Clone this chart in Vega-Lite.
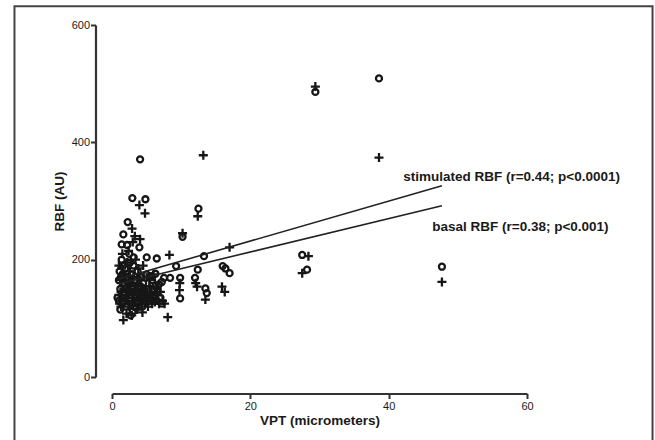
{
  "$schema": "https://vega.github.io/schema/vega-lite/v6.json",
  "autosize": {"type": "none"},
  "padding": {"left": 112, "top": 25, "right": 128, "bottom": 63},
  "width": 415,
  "height": 352,
  "background": "white",
  "config": {
    "view": {"stroke": null},
    "axis": {"grid": false, "offset": 16.5, "tickSize": 5, "tickWidth": 2, "tickColor": "#333", "domainColor": "#333", "domainWidth": 2.2,
      "labelFont": "Liberation Sans", "labelFontSize": 11, "labelColor": "#1a1a1a", "titleFont": "Liberation Sans", "titleFontSize": 13.5,
      "titleFontWeight": "bold", "titleColor": "#1a1a1a"},
    "axisX": {"labelFlush": false, "labelPadding": 2, "titlePadding": 2},
    "axisY": {"labelPadding": 1, "titlePadding": 5}
  },
  "datasets": {
    "pts": [
      {"s": "basal", "vpt": 4.06, "rbf": 371}, {"s": "basal", "vpt": 2.94, "rbf": 305}, {"s": "basal", "vpt": 4.83, "rbf": 303},
      {"s": "basal", "vpt": 12.5, "rbf": 287}, {"s": "basal", "vpt": 2.27, "rbf": 264}, {"s": "basal", "vpt": 1.64, "rbf": 243},
      {"s": "basal", "vpt": 10.2, "rbf": 239}, {"s": "basal", "vpt": 1.4, "rbf": 226}, {"s": "basal", "vpt": 3.96, "rbf": 221},
      {"s": "basal", "vpt": 3.14, "rbf": 204}, {"s": "basal", "vpt": 5.02, "rbf": 204}, {"s": "basal", "vpt": 6.47, "rbf": 202},
      {"s": "basal", "vpt": 13.3, "rbf": 206}, {"s": "basal", "vpt": 9.27, "rbf": 189}, {"s": "basal", "vpt": 16.0, "rbf": 189},
      {"s": "basal", "vpt": 16.4, "rbf": 185}, {"s": "basal", "vpt": 17.0, "rbf": 177}, {"s": "basal", "vpt": 12.4, "rbf": 183},
      {"s": "basal", "vpt": 6.28, "rbf": 176}, {"s": "basal", "vpt": 7.53, "rbf": 169}, {"s": "basal", "vpt": 8.4, "rbf": 169},
      {"s": "basal", "vpt": 9.85, "rbf": 169}, {"s": "basal", "vpt": 12.0, "rbf": 169}, {"s": "basal", "vpt": 9.85, "rbf": 134},
      {"s": "basal", "vpt": 13.5, "rbf": 151}, {"s": "basal", "vpt": 13.7, "rbf": 143}, {"s": "basal", "vpt": 7.2, "rbf": 162},
      {"s": "basal", "vpt": 38.6, "rbf": 509}, {"s": "basal", "vpt": 29.4, "rbf": 486}, {"s": "basal", "vpt": 27.5, "rbf": 208},
      {"s": "basal", "vpt": 28.2, "rbf": 183}, {"s": "basal", "vpt": 47.7, "rbf": 188},
      {"s": "basal", "vpt": 1.0, "rbf": 130}, {"s": "basal", "vpt": 1.2, "rbf": 150}, {"s": "basal", "vpt": 1.3, "rbf": 170},
      {"s": "basal", "vpt": 1.5, "rbf": 175}, {"s": "basal", "vpt": 1.6, "rbf": 160}, {"s": "basal", "vpt": 1.8, "rbf": 140},
      {"s": "basal", "vpt": 1.9, "rbf": 185}, {"s": "basal", "vpt": 2.0, "rbf": 120}, {"s": "basal", "vpt": 2.1, "rbf": 165},
      {"s": "basal", "vpt": 2.3, "rbf": 195}, {"s": "basal", "vpt": 2.4, "rbf": 145}, {"s": "basal", "vpt": 2.5, "rbf": 210},
      {"s": "basal", "vpt": 2.6, "rbf": 130}, {"s": "basal", "vpt": 2.8, "rbf": 175}, {"s": "basal", "vpt": 2.9, "rbf": 155},
      {"s": "basal", "vpt": 3.0, "rbf": 112}, {"s": "basal", "vpt": 3.1, "rbf": 190}, {"s": "basal", "vpt": 3.3, "rbf": 140},
      {"s": "basal", "vpt": 3.4, "rbf": 165}, {"s": "basal", "vpt": 3.6, "rbf": 125}, {"s": "basal", "vpt": 3.7, "rbf": 180},
      {"s": "basal", "vpt": 3.9, "rbf": 150}, {"s": "basal", "vpt": 4.0, "rbf": 135}, {"s": "basal", "vpt": 4.2, "rbf": 170},
      {"s": "basal", "vpt": 4.4, "rbf": 120}, {"s": "basal", "vpt": 4.5, "rbf": 160}, {"s": "basal", "vpt": 4.7, "rbf": 145},
      {"s": "basal", "vpt": 4.9, "rbf": 130}, {"s": "basal", "vpt": 5.0, "rbf": 175}, {"s": "basal", "vpt": 5.3, "rbf": 150},
      {"s": "basal", "vpt": 5.5, "rbf": 140}, {"s": "basal", "vpt": 5.8, "rbf": 165}, {"s": "basal", "vpt": 6.0, "rbf": 130},
      {"s": "basal", "vpt": 6.3, "rbf": 155}, {"s": "basal", "vpt": 6.6, "rbf": 145}, {"s": "basal", "vpt": 7.0, "rbf": 135},
      {"s": "basal", "vpt": 1.1, "rbf": 180}, {"s": "basal", "vpt": 1.4, "rbf": 200}, {"s": "basal", "vpt": 2.2, "rbf": 225},
      {"s": "basal", "vpt": 0.8, "rbf": 135}, {"s": "basal", "vpt": 1.7, "rbf": 128}, {"s": "basal", "vpt": 2.7, "rbf": 105},
      {"s": "basal", "vpt": 3.5, "rbf": 118}, {"s": "basal", "vpt": 5.6, "rbf": 172}, {"s": "basal", "vpt": 6.8, "rbf": 158},
      {"s": "basal", "vpt": 1.2, "rbf": 115}, {"s": "basal", "vpt": 1.5, "rbf": 135}, {"s": "basal", "vpt": 1.8, "rbf": 160},
      {"s": "basal", "vpt": 2.0, "rbf": 150}, {"s": "basal", "vpt": 2.3, "rbf": 170}, {"s": "basal", "vpt": 2.5, "rbf": 160},
      {"s": "basal", "vpt": 2.7, "rbf": 140}, {"s": "basal", "vpt": 3.0, "rbf": 150}, {"s": "basal", "vpt": 3.2, "rbf": 120},
      {"s": "basal", "vpt": 3.5, "rbf": 145}, {"s": "basal", "vpt": 3.8, "rbf": 130}, {"s": "basal", "vpt": 4.1, "rbf": 155},
      {"s": "basal", "vpt": 4.3, "rbf": 140}, {"s": "basal", "vpt": 4.6, "rbf": 125}, {"s": "basal", "vpt": 5.1, "rbf": 140},
      {"s": "basal", "vpt": 5.4, "rbf": 130}, {"s": "basal", "vpt": 5.9, "rbf": 150}, {"s": "basal", "vpt": 6.2, "rbf": 140},
      {"s": "basal", "vpt": 6.5, "rbf": 130}, {"s": "basal", "vpt": 7.2, "rbf": 125}, {"s": "basal", "vpt": 1.0, "rbf": 165},
      {"s": "basal", "vpt": 1.6, "rbf": 190}, {"s": "basal", "vpt": 2.6, "rbf": 195},
      {"s": "stim", "vpt": 13.2, "rbf": 378}, {"s": "stim", "vpt": 3.96, "rbf": 293}, {"s": "stim", "vpt": 4.77, "rbf": 279},
      {"s": "stim", "vpt": 12.4, "rbf": 274}, {"s": "stim", "vpt": 2.9, "rbf": 253}, {"s": "stim", "vpt": 4.06, "rbf": 235},
      {"s": "stim", "vpt": 10.2, "rbf": 245}, {"s": "stim", "vpt": 8.3, "rbf": 208}, {"s": "stim", "vpt": 17.0, "rbf": 221},
      {"s": "stim", "vpt": 9.75, "rbf": 148}, {"s": "stim", "vpt": 12.3, "rbf": 154}, {"s": "stim", "vpt": 13.5, "rbf": 132},
      {"s": "stim", "vpt": 15.9, "rbf": 154}, {"s": "stim", "vpt": 16.3, "rbf": 145}, {"s": "stim", "vpt": 1.64, "rbf": 97},
      {"s": "stim", "vpt": 2.85, "rbf": 105}, {"s": "stim", "vpt": 8.06, "rbf": 102}, {"s": "stim", "vpt": 29.4, "rbf": 495},
      {"s": "stim", "vpt": 38.6, "rbf": 374}, {"s": "stim", "vpt": 28.4, "rbf": 206}, {"s": "stim", "vpt": 27.5, "rbf": 177},
      {"s": "stim", "vpt": 47.7, "rbf": 162}, {"s": "stim", "vpt": 9.8, "rbf": 160}, {"s": "stim", "vpt": 12.1, "rbf": 160},
      {"s": "stim", "vpt": 1.0, "rbf": 140}, {"s": "stim", "vpt": 1.2, "rbf": 165}, {"s": "stim", "vpt": 1.4, "rbf": 185},
      {"s": "stim", "vpt": 1.5, "rbf": 210}, {"s": "stim", "vpt": 1.7, "rbf": 150}, {"s": "stim", "vpt": 1.9, "rbf": 175},
      {"s": "stim", "vpt": 2.0, "rbf": 130}, {"s": "stim", "vpt": 2.2, "rbf": 195}, {"s": "stim", "vpt": 2.3, "rbf": 160},
      {"s": "stim", "vpt": 2.5, "rbf": 120}, {"s": "stim", "vpt": 2.6, "rbf": 180}, {"s": "stim", "vpt": 2.8, "rbf": 145},
      {"s": "stim", "vpt": 3.0, "rbf": 230}, {"s": "stim", "vpt": 3.1, "rbf": 170}, {"s": "stim", "vpt": 3.2, "rbf": 130},
      {"s": "stim", "vpt": 3.4, "rbf": 200}, {"s": "stim", "vpt": 3.5, "rbf": 155}, {"s": "stim", "vpt": 3.6, "rbf": 115},
      {"s": "stim", "vpt": 3.8, "rbf": 185}, {"s": "stim", "vpt": 4.0, "rbf": 140}, {"s": "stim", "vpt": 4.1, "rbf": 165},
      {"s": "stim", "vpt": 4.3, "rbf": 125}, {"s": "stim", "vpt": 4.5, "rbf": 190}, {"s": "stim", "vpt": 4.6, "rbf": 150},
      {"s": "stim", "vpt": 4.8, "rbf": 135}, {"s": "stim", "vpt": 5.0, "rbf": 170}, {"s": "stim", "vpt": 5.2, "rbf": 120},
      {"s": "stim", "vpt": 5.4, "rbf": 155}, {"s": "stim", "vpt": 5.7, "rbf": 140}, {"s": "stim", "vpt": 6.0, "rbf": 175},
      {"s": "stim", "vpt": 6.2, "rbf": 128}, {"s": "stim", "vpt": 6.5, "rbf": 150}, {"s": "stim", "vpt": 6.8, "rbf": 125},
      {"s": "stim", "vpt": 7.3, "rbf": 130}, {"s": "stim", "vpt": 7.6, "rbf": 125}, {"s": "stim", "vpt": 1.3, "rbf": 120},
      {"s": "stim", "vpt": 2.1, "rbf": 108},
      {"s": "stim", "vpt": 1.1, "rbf": 125}, {"s": "stim", "vpt": 1.3, "rbf": 145}, {"s": "stim", "vpt": 1.6, "rbf": 170},
      {"s": "stim", "vpt": 1.8, "rbf": 130}, {"s": "stim", "vpt": 2.1, "rbf": 150}, {"s": "stim", "vpt": 2.4, "rbf": 140},
      {"s": "stim", "vpt": 2.7, "rbf": 165}, {"s": "stim", "vpt": 2.9, "rbf": 125}, {"s": "stim", "vpt": 3.3, "rbf": 145},
      {"s": "stim", "vpt": 3.6, "rbf": 170}, {"s": "stim", "vpt": 3.9, "rbf": 130}, {"s": "stim", "vpt": 4.2, "rbf": 150},
      {"s": "stim", "vpt": 4.4, "rbf": 110}, {"s": "stim", "vpt": 4.9, "rbf": 145}, {"s": "stim", "vpt": 5.1, "rbf": 130},
      {"s": "stim", "vpt": 5.5, "rbf": 165}, {"s": "stim", "vpt": 5.8, "rbf": 125}, {"s": "stim", "vpt": 6.3, "rbf": 140},
      {"s": "stim", "vpt": 7.0, "rbf": 145}, {"s": "stim", "vpt": 1.0, "rbf": 190}, {"s": "stim", "vpt": 2.4, "rbf": 215},
      {"s": "stim", "vpt": 3.3, "rbf": 240}
    ],
    "fits": [
      {"s": "stimulated", "vpt": 1.0, "rbf": 167}, {"s": "stimulated", "vpt": 47.7, "rbf": 326},
      {"s": "basal", "vpt": 1.0, "rbf": 159}, {"s": "basal", "vpt": 47.7, "rbf": 292}
    ],
    "notes": [
      {"vpt": 42.1, "rbf": 341, "label": "stimulated RBF (r=0.44; p<0.0001)"},
      {"vpt": 46.3, "rbf": 256, "label": "basal RBF (r=0.38; p<0.001)"}
    ]
  },
  "layer": [
    {
      "data": {"name": "pts"},
      "transform": [{"filter": "datum.s === 'basal'"}],
      "mark": {"type": "point", "shape": "circle", "filled": false, "size": 36, "strokeWidth": 2.3, "color": "#161616", "opacity": 1},
      "encoding": {
        "x": {"field": "vpt", "type": "quantitative",
          "scale": {"domain": [0, 60], "nice": false, "zero": false},
          "axis": {"values": [0, 20, 40, 60], "title": "VPT (micrometers)"}},
        "y": {"field": "rbf", "type": "quantitative",
          "scale": {"domain": [0, 600], "nice": false},
          "axis": {"values": [0, 200, 400, 600], "title": "RBF (AU)"}}
      }
    },
    {
      "data": {"name": "pts"},
      "transform": [{"filter": "datum.s === 'stim'"}],
      "mark": {"type": "point", "shape": "M-1,0H1M0,-1V1", "filled": false, "size": 81, "strokeWidth": 2.3, "color": "#161616", "opacity": 1},
      "encoding": {
        "x": {"field": "vpt", "type": "quantitative"},
        "y": {"field": "rbf", "type": "quantitative"}
      }
    },
    {
      "data": {"name": "fits"},
      "mark": {"type": "line", "color": "#222", "strokeWidth": 1.6},
      "encoding": {
        "x": {"field": "vpt", "type": "quantitative"},
        "y": {"field": "rbf", "type": "quantitative"},
        "detail": {"field": "s"}
      }
    },
    {
      "data": {"name": "notes"},
      "mark": {"type": "text", "align": "left", "baseline": "middle", "font": "Liberation Sans", "fontSize": 13.5, "fontWeight": "bold", "color": "#1a1a1a"},
      "encoding": {
        "x": {"field": "vpt", "type": "quantitative"},
        "y": {"field": "rbf", "type": "quantitative"},
        "text": {"field": "label"}
      }
    },
    {
      "data": {"values": [{}]},
      "mark": {"type": "rect", "filled": false, "stroke": "#444", "strokeWidth": 2, "clip": false},
      "encoding": {
        "x": {"datum": -14.1, "type": "quantitative"},
        "x2": {"datum": 78.15},
        "y": {"datum": 632, "type": "quantitative"},
        "y2": {"datum": -120}
      }
    }
  ]
}
